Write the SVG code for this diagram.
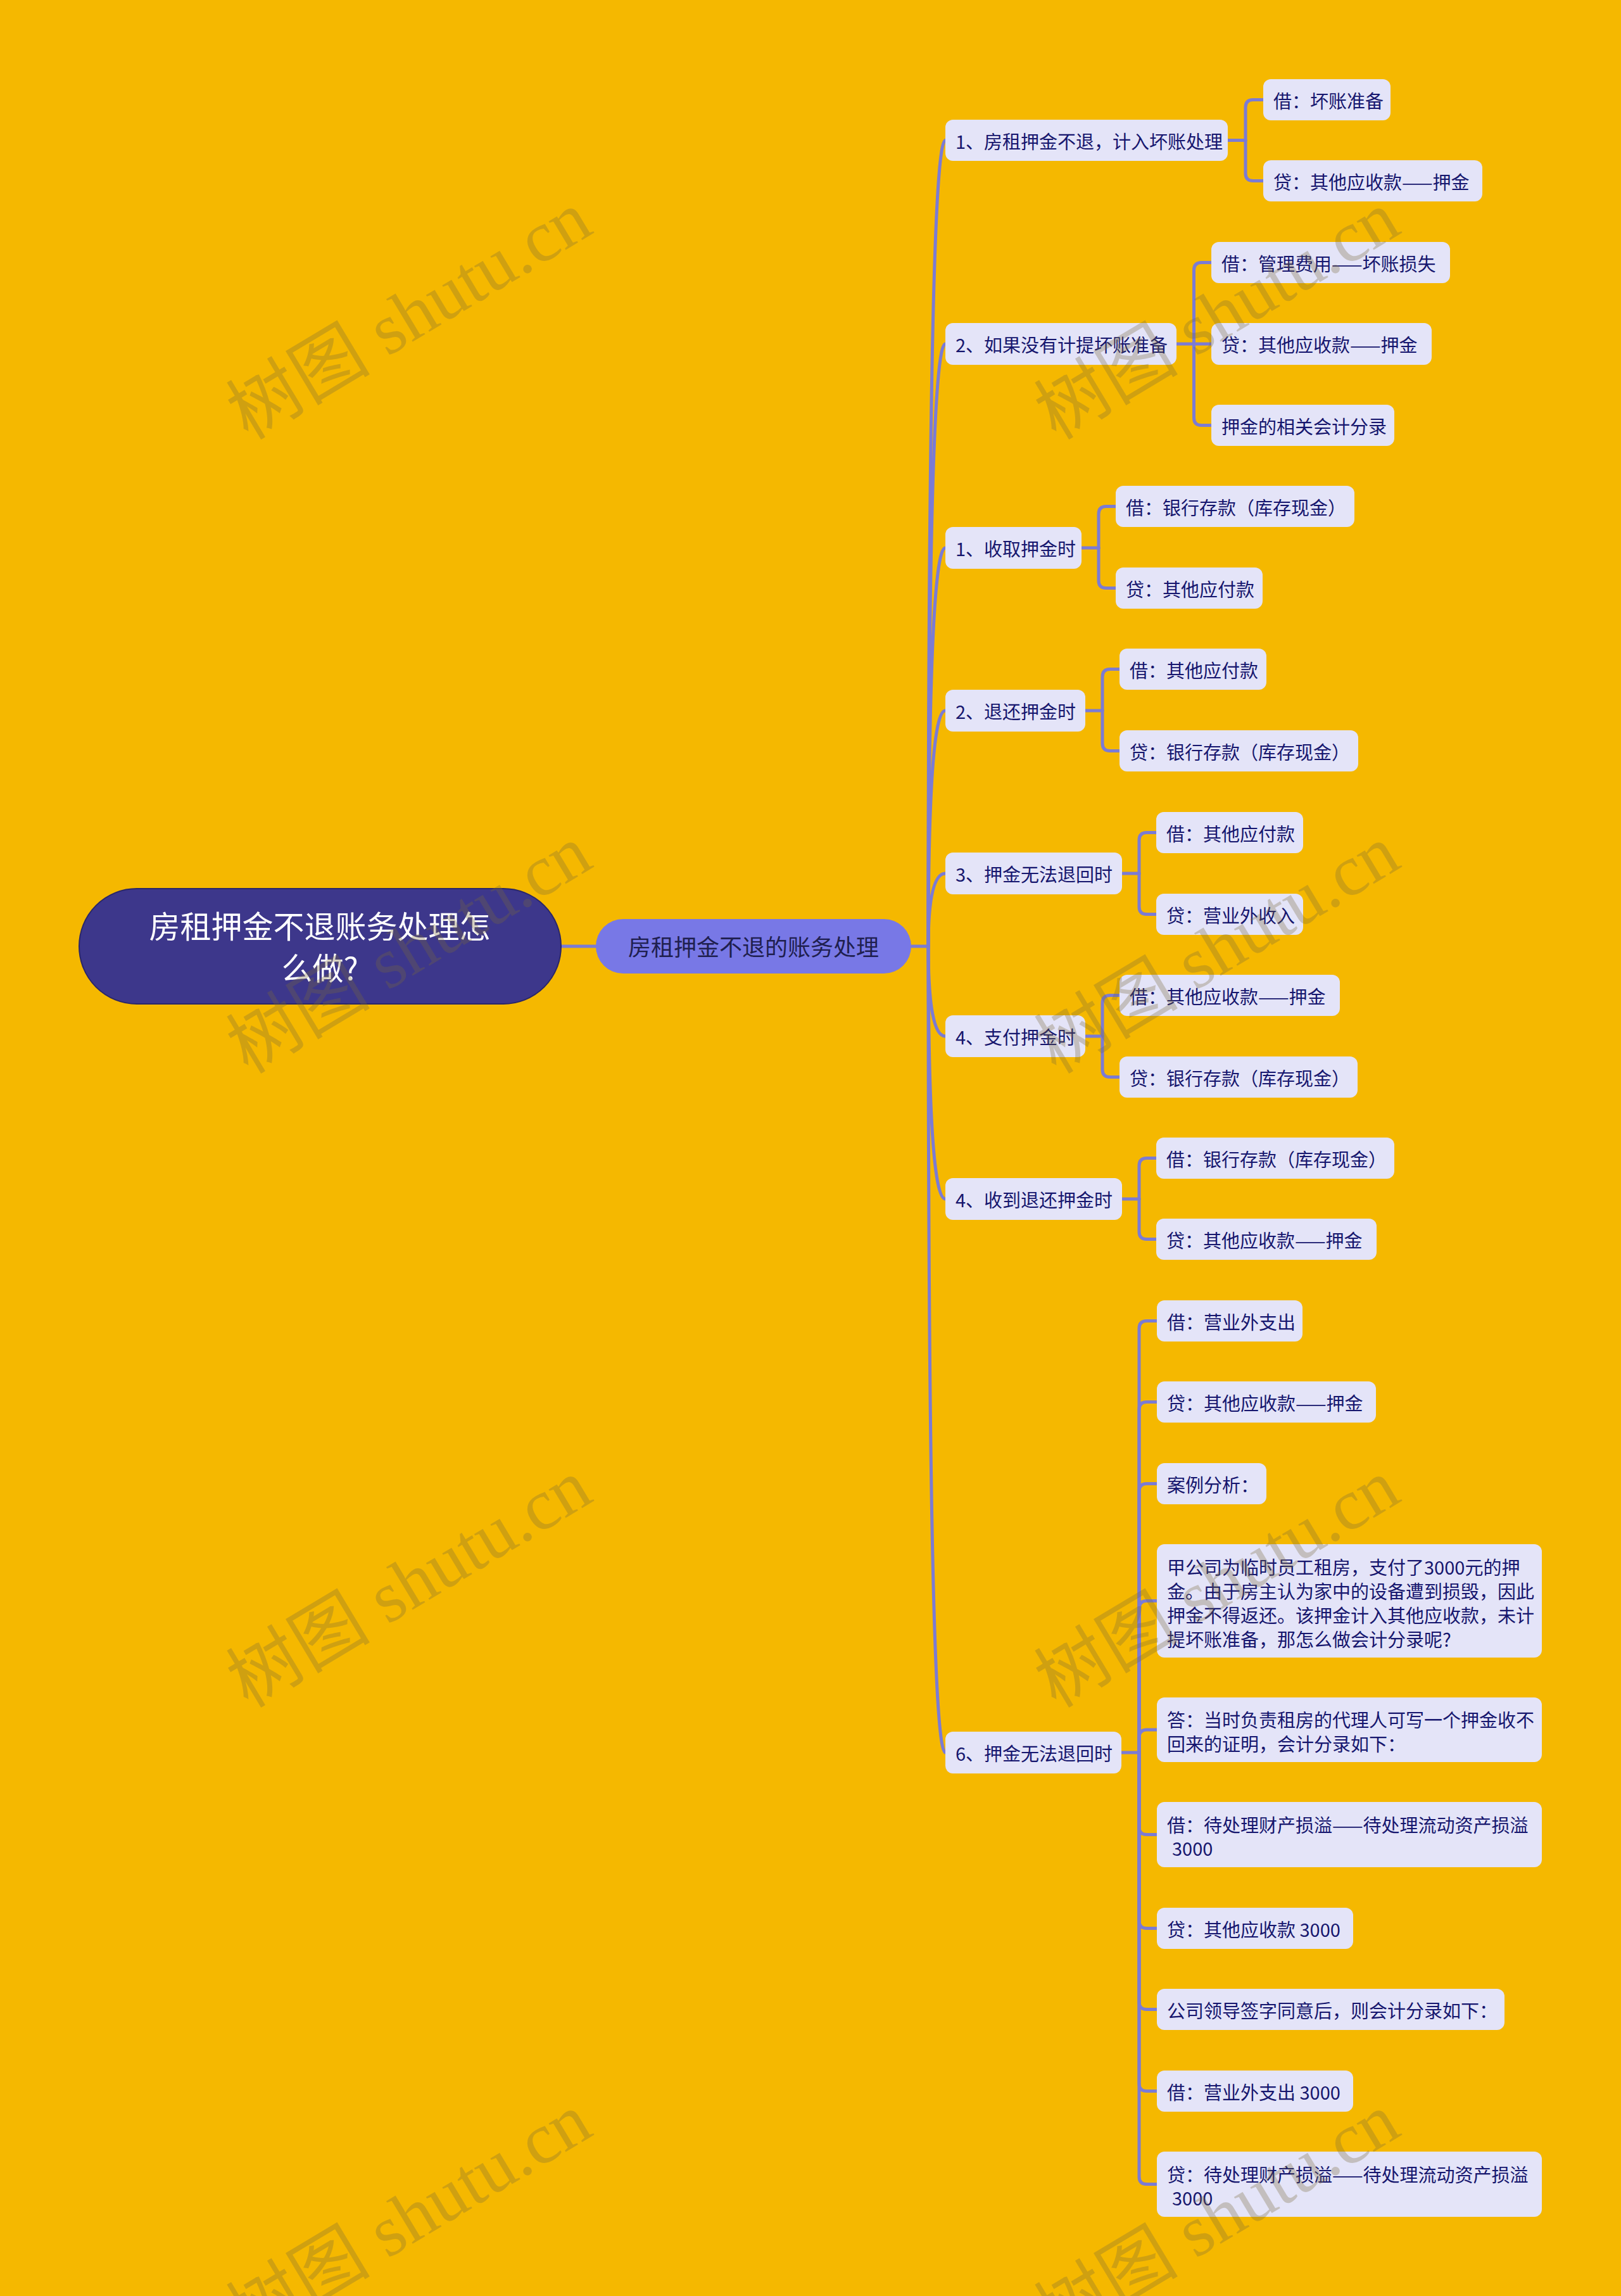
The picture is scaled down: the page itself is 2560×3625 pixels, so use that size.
<svg xmlns="http://www.w3.org/2000/svg" width="2560" height="3625" viewBox="0 0 2560 3625">
<style>
.bg{fill:#f5b800}
.n rect{fill:#e4e4f8}
.t{font-family:"Noto Sans CJK SC","Noto Sans",sans-serif;font-size:29px;fill:#16166e}
.c{fill:none;stroke:#7b7bd4;stroke-width:5;stroke-linecap:round}
.wm{font-family:"Liberation Serif","Noto Sans CJK SC",serif;font-size:114px;fill:#7a6a3a;opacity:0.3}
</style>
<rect class="bg" x="0" y="0" width="2560" height="3625"/>

<g id="connectors">
<path class="c" d="M886 1494 H941"/>
<path class="c" d="M1439 1494 H1466"/>
<path class="c" d="M1466 1494 Q1466 221.5 1493 221.5"/>
<path class="c" d="M1466 1494 Q1466 543 1493 543"/>
<path class="c" d="M1466 1494 Q1466 865 1493 865"/>
<path class="c" d="M1466 1494 Q1466 1122 1493 1122"/>
<path class="c" d="M1466 1494 Q1466 1379 1493 1379"/>
<path class="c" d="M1466 1494 Q1466 1636 1493 1636"/>
<path class="c" d="M1466 1494 Q1466 1893 1493 1893"/>
<path class="c" d="M1466 1494 Q1466 2767 1493 2767"/>

<path class="c" d="M1939 221.5 H1967"/>
<path class="c" d="M1967 221.5 V169.5 Q1967 157.5 1979 157.5 H1995"/>
<path class="c" d="M1967 221.5 V273.5 Q1967 285.5 1979 285.5 H1995"/>

<path class="c" d="M1858 543 H1913"/>
<path class="c" d="M1885.5 543 V426.5 Q1885.5 414.5 1897.5 414.5 H1913"/>
<path class="c" d="M1885.5 543 V659.5 Q1885.5 671.5 1897.5 671.5 H1913"/>

<path class="c" d="M1708 865 H1735"/>
<path class="c" d="M1735 865 V811.5 Q1735 799.5 1747 799.5 H1762"/>
<path class="c" d="M1735 865 V916.5 Q1735 928.5 1747 928.5 H1762"/>

<path class="c" d="M1714 1122 H1741"/>
<path class="c" d="M1741 1122 V1068.5 Q1741 1056.5 1753 1056.5 H1768"/>
<path class="c" d="M1741 1122 V1173.5 Q1741 1185.5 1753 1185.5 H1768"/>

<path class="c" d="M1772 1379 H1799"/>
<path class="c" d="M1799 1379 V1326.5 Q1799 1314.5 1811 1314.5 H1826"/>
<path class="c" d="M1799 1379 V1431.5 Q1799 1443.5 1811 1443.5 H1826"/>

<path class="c" d="M1714 1636 H1741"/>
<path class="c" d="M1741 1636 V1583.5 Q1741 1571.5 1753 1571.5 H1768"/>
<path class="c" d="M1741 1636 V1688.5 Q1741 1700.5 1753 1700.5 H1768"/>

<path class="c" d="M1772 1893 H1799"/>
<path class="c" d="M1799 1893 V1840.5 Q1799 1828.5 1811 1828.5 H1826"/>
<path class="c" d="M1799 1893 V1944.5 Q1799 1956.5 1811 1956.5 H1826"/>

<path class="c" d="M1771 2767 H1799"/>
<path class="c" d="M1799 2767 V2097.5 Q1799 2085.5 1811 2085.5 H1827"/>
<path class="c" d="M1799 2767 V2225.5 Q1799 2213.5 1811 2213.5 H1827"/>
<path class="c" d="M1799 2767 V2354.5 Q1799 2342.5 1811 2342.5 H1827"/>
<path class="c" d="M1799 2767 V2539.5 Q1799 2527.5 1811 2527.5 H1827"/>
<path class="c" d="M1799 2767 V2743 Q1799 2731 1811 2731 H1827"/>
<path class="c" d="M1799 2767 V2884.5 Q1799 2896.5 1811 2896.5 H1827"/>
<path class="c" d="M1799 2767 V3032.5 Q1799 3044.5 1811 3044.5 H1827"/>
<path class="c" d="M1799 2767 V3160.5 Q1799 3172.5 1811 3172.5 H1827"/>
<path class="c" d="M1799 2767 V3289.5 Q1799 3301.5 1811 3301.5 H1827"/>
<path class="c" d="M1799 2767 V3436.5 Q1799 3448.5 1811 3448.5 H1827"/>
</g>

<g id="root">
<rect x="125" y="1403" width="761" height="182" rx="91" fill="#3d378b" stroke="#2a2668" stroke-width="2"/>
<text x="505" y="1481" text-anchor="middle" font-family="Noto Sans CJK SC, sans-serif" font-size="49" fill="#ffffff">房租押金不退账务处理怎</text>
<text x="505" y="1547" text-anchor="middle" font-family="Noto Sans CJK SC, sans-serif" font-size="49" fill="#ffffff">么做?</text>
</g>

<g id="main">
<rect x="941" y="1451" width="498" height="86" rx="43" fill="#7878e6"/>
<text x="1190" y="1509" text-anchor="middle" font-family="Noto Sans CJK SC, sans-serif" font-size="36" fill="#1f1f4f">房租押金不退的账务处理</text>
</g>

<g id="n1" class="n"><rect x="1493" y="189" width="446" height="65" rx="12"/><text class="t" x="1509" y="235">1、房租押金不退，计入坏账处理</text></g>
<g id="n1a" class="n"><rect x="1995" y="125" width="201" height="65" rx="12"/><text class="t" x="2011" y="171">借：坏账准备</text></g>
<g id="n1b" class="n"><rect x="1995" y="253" width="346" height="65" rx="12"/><text class="t" x="2011" y="299">贷：其他应收款——押金</text></g>

<g id="n2" class="n"><rect x="1493" y="510" width="365" height="66" rx="12"/><text class="t" x="1509" y="556">2、如果没有计提坏账准备</text></g>
<g id="n2a" class="n"><rect x="1913" y="382" width="377" height="65" rx="12"/><text class="t" x="1929" y="428">借：管理费用——坏账损失</text></g>
<g id="n2b" class="n"><rect x="1913" y="510" width="348" height="66" rx="12"/><text class="t" x="1929" y="556">贷：其他应收款——押金</text></g>
<g id="n2c" class="n"><rect x="1913" y="639" width="289" height="65" rx="12"/><text class="t" x="1929" y="685">押金的相关会计分录</text></g>

<g id="n3" class="n"><rect x="1493" y="832" width="215" height="66" rx="12"/><text class="t" x="1509" y="878">1、收取押金时</text></g>
<g id="n3a" class="n"><rect x="1762" y="767" width="377" height="65" rx="12"/><text class="t" x="1778" y="813">借：银行存款（库存现金）</text></g>
<g id="n3b" class="n"><rect x="1762" y="896" width="232" height="65" rx="12"/><text class="t" x="1778" y="942">贷：其他应付款</text></g>

<g id="n4" class="n"><rect x="1493" y="1089" width="221" height="66" rx="12"/><text class="t" x="1509" y="1135">2、退还押金时</text></g>
<g id="n4a" class="n"><rect x="1768" y="1024" width="232" height="65" rx="12"/><text class="t" x="1784" y="1070">借：其他应付款</text></g>
<g id="n4b" class="n"><rect x="1768" y="1153" width="377" height="65" rx="12"/><text class="t" x="1784" y="1199">贷：银行存款（库存现金）</text></g>

<g id="n5" class="n"><rect x="1493" y="1346" width="279" height="66" rx="12"/><text class="t" x="1509" y="1392">3、押金无法退回时</text></g>
<g id="n5a" class="n"><rect x="1826" y="1282" width="232" height="65" rx="12"/><text class="t" x="1842" y="1328">借：其他应付款</text></g>
<g id="n5b" class="n"><rect x="1826" y="1411" width="232" height="65" rx="12"/><text class="t" x="1842" y="1457">贷：营业外收入</text></g>

<g id="n6" class="n"><rect x="1493" y="1603" width="221" height="66" rx="12"/><text class="t" x="1509" y="1649">4、支付押金时</text></g>
<g id="n6a" class="n"><rect x="1768" y="1539" width="348" height="65" rx="12"/><text class="t" x="1784" y="1585">借：其他应收款——押金</text></g>
<g id="n6b" class="n"><rect x="1768" y="1668" width="376" height="65" rx="12"/><text class="t" x="1784" y="1714">贷：银行存款（库存现金）</text></g>

<g id="n7" class="n"><rect x="1493" y="1860" width="279" height="66" rx="12"/><text class="t" x="1509" y="1906">4、收到退还押金时</text></g>
<g id="n7a" class="n"><rect x="1826" y="1796" width="376" height="65" rx="12"/><text class="t" x="1842" y="1842">借：银行存款（库存现金）</text></g>
<g id="n7b" class="n"><rect x="1826" y="1924" width="348" height="65" rx="12"/><text class="t" x="1842" y="1970">贷：其他应收款——押金</text></g>

<g id="n8" class="n"><rect x="1493" y="2734" width="278" height="66" rx="12"/><text class="t" x="1509" y="2780">6、押金无法退回时</text></g>
<g id="n8a" class="n"><rect x="1827" y="2053" width="230" height="65" rx="12"/><text class="t" x="1843" y="2099">借：营业外支出</text></g>
<g id="n8b" class="n"><rect x="1827" y="2181" width="346" height="65" rx="12"/><text class="t" x="1843" y="2227">贷：其他应收款——押金</text></g>
<g id="n8c" class="n"><rect x="1827" y="2310" width="173" height="65" rx="12"/><text class="t" x="1843" y="2356">案例分析：</text></g>
<g id="n8d" class="n"><rect x="1827" y="2438" width="608" height="179" rx="12"/>
<text class="t" x="1843" y="2486">甲公司为临时员工租房，支付了3000元的押</text>
<text class="t" x="1843" y="2524">金。由于房主认为家中的设备遭到损毁，因此</text>
<text class="t" x="1843" y="2562">押金不得返还。该押金计入其他应收款，未计</text>
<text class="t" x="1843" y="2600">提坏账准备，那怎么做会计分录呢?</text></g>
<g id="n8e" class="n"><rect x="1827" y="2680" width="608" height="102" rx="12"/>
<text class="t" x="1843" y="2727">答：当时负责租房的代理人可写一个押金收不</text>
<text class="t" x="1843" y="2765">回来的证明，会计分录如下：</text></g>
<g id="n8f" class="n"><rect x="1827" y="2845" width="608" height="103" rx="12"/>
<text class="t" x="1843" y="2893">借：待处理财产损溢——待处理流动资产损溢</text>
<text class="t" x="1851" y="2930">3000</text></g>
<g id="n8g" class="n"><rect x="1827" y="3012" width="310" height="65" rx="12"/><text class="t" x="1843" y="3058">贷：其他应收款 3000</text></g>
<g id="n8h" class="n"><rect x="1827" y="3140" width="549" height="65" rx="12"/><text class="t" x="1843" y="3186">公司领导签字同意后，则会计分录如下：</text></g>
<g id="n8i" class="n"><rect x="1827" y="3269" width="310" height="65" rx="12"/><text class="t" x="1843" y="3315">借：营业外支出 3000</text></g>
<g id="n8j" class="n"><rect x="1827" y="3397" width="608" height="103" rx="12"/>
<text class="t" x="1843" y="3445">贷：待处理财产损溢——待处理流动资产损溢</text>
<text class="t" x="1851" y="3482">3000</text></g>

<g id="watermarks">
<text class="wm" x="666" y="531" text-anchor="middle" transform="rotate(-31 666 531)">树图 shutu.cn</text>
<text class="wm" x="1942" y="531" text-anchor="middle" transform="rotate(-31 1942 531)">树图 shutu.cn</text>
<text class="wm" x="666" y="1532" text-anchor="middle" transform="rotate(-31 666 1532)">树图 shutu.cn</text>
<text class="wm" x="1942" y="1532" text-anchor="middle" transform="rotate(-31 1942 1532)">树图 shutu.cn</text>
<text class="wm" x="666" y="2533" text-anchor="middle" transform="rotate(-31 666 2533)">树图 shutu.cn</text>
<text class="wm" x="1942" y="2533" text-anchor="middle" transform="rotate(-31 1942 2533)">树图 shutu.cn</text>
<text class="wm" x="666" y="3534" text-anchor="middle" transform="rotate(-31 666 3534)">树图 shutu.cn</text>
<text class="wm" x="1942" y="3534" text-anchor="middle" transform="rotate(-31 1942 3534)">树图 shutu.cn</text>
</g>
</svg>
